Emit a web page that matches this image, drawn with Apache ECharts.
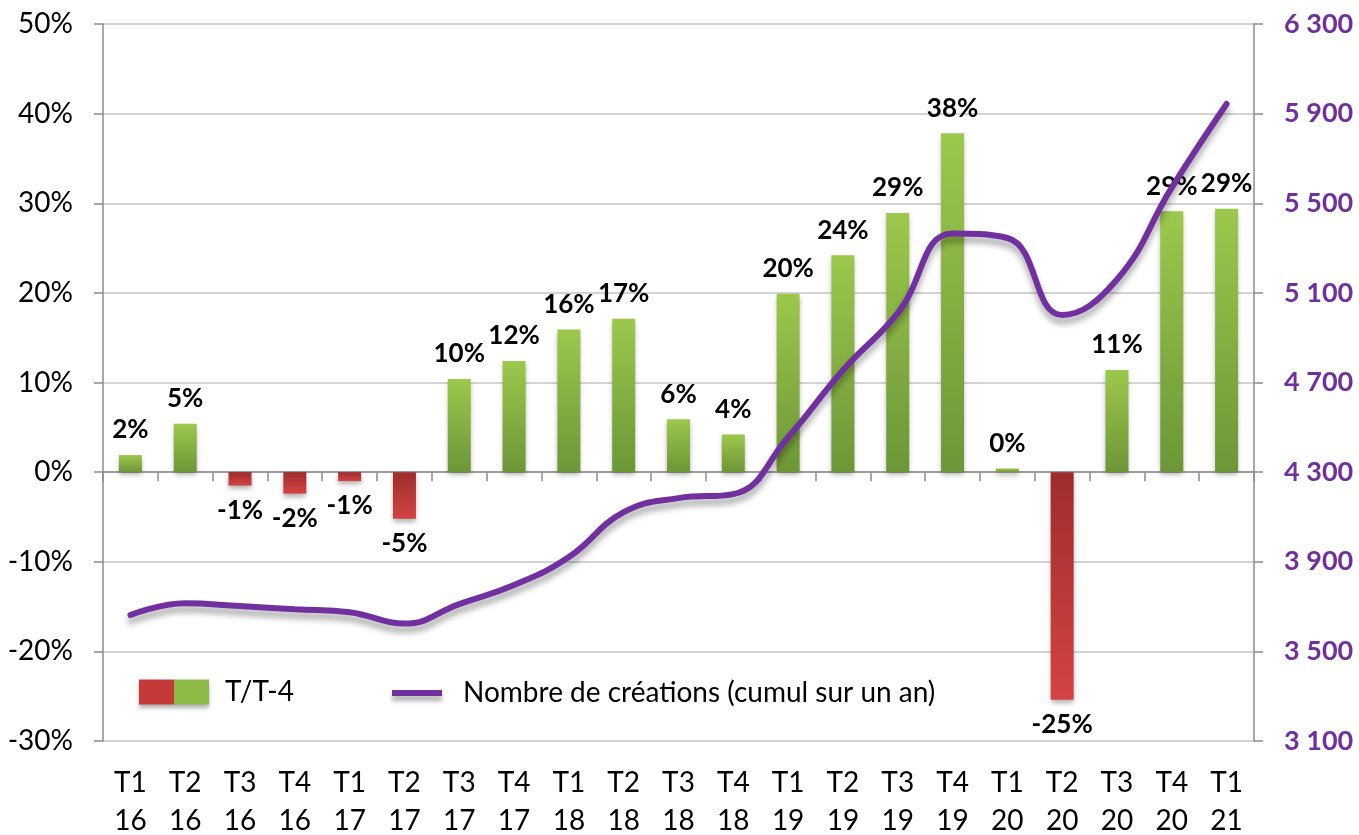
<!DOCTYPE html>
<html>
<head>
<meta charset="utf-8">
<script src="https://cdn.jsdelivr.net/npm/echarts@6/dist/echarts.min.js"></script>
<style>
html,body{margin:0;padding:0;background:#fff;}
#main{width:1359px;height:835px;}
</style>
</head>
<body>
<div id="main"></div>
<script>
// trimestres
var categories = ['T1\n16','T2\n16','T3\n16','T4\n16','T1\n17','T2\n17','T3\n17','T4\n17','T1\n18','T2\n18','T3\n18','T4\n18',
	'T1\n19','T2\n19','T3\n19','T4\n19','T1\n20','T2\n20','T3\n20','T4\n20','T1\n21'];
// evolution T/T-4 en %
var evolution = [1.9, 5.4, -1.5, -2.4, -1.0, -5.2, 10.4, 12.4, 15.9, 17.1, 5.9, 4.2, 19.9, 24.2, 28.9, 37.8, 0.4, -25.4, 11.4, 29.1, 29.4];
// nombre de creations, cumul sur un an
var creations = [3662, 3715, 3702, 3688, 3675, 3624, 3711, 3796, 3921, 4121, 4184, 4202, 4456, 4755, 5010, 5365, 5345, 5001, 5160, 5570, 5943];

var FONT = 'Lato';
var PURPLE = '#7030a0';

function grad(c1, c2) {
	return new echarts.graphic.LinearGradient(0, 0, 0, 1, [
		{ offset : 0, color : c1 },
		{ offset : 1, color : c2 }
	]);
}

var barData = [];
for (var i = 0; i < evolution.length; i++) {
	var v = evolution[i];
	barData.push({
		value : v,
		itemStyle : {
			color : v >= 0 ? grad('#9cc84c', '#6d9637') : grad('#9e2c2c', '#d44343')
		},
		label : {
			position : v >= 0 ? 'top' : 'bottom'
		}
	});
}

var chart = echarts.init(document.getElementById('main'));
var option = {
	animation : false,
	textStyle : { fontFamily : FONT },
	grid : { left : 103, right : 105, top : 24, bottom : 94, containLabel : false, outerBoundsMode : 'none' },
	legend : [ {
		data : [ 'T/T-4' ],
		left : 139,
		top : 678,
		padding : 0,
		itemWidth : 70,
		itemHeight : 25,
		icon : 'rect',
		itemStyle : {
			color : new echarts.graphic.LinearGradient(0, 0, 1, 0, [
				{ offset : 0, color : '#c43a38' },
				{ offset : 0.5, color : '#c43a38' },
				{ offset : 0.5, color : '#8dba45' },
				{ offset : 1, color : '#8dba45' }
			]),
			shadowColor : 'rgba(0,0,0,0.3)',
			shadowBlur : 4,
			shadowOffsetY : 3
		},
		textStyle : { fontFamily : FONT, fontSize : 28, color : '#000', padding : [ 0, 0, 0, 11 ] }
	}, {
		data : [ 'Nombre de créations (cumul sur un an)' ],
		left : 392,
		top : 679,
		padding : 0,
		itemWidth : 50,
		itemHeight : 6,
		icon : 'rect',
		itemStyle : {
			color : PURPLE,
			shadowColor : 'rgba(0,0,0,0.3)',
			shadowBlur : 4,
			shadowOffsetY : 5
		},
		textStyle : { fontFamily : FONT, fontSize : 28, color : '#000', padding : [ 0, 0, 0, 16 ] }
	} ],
	xAxis : [ {
		type : 'category',
		data : categories,
		position : 'bottom',
		axisLine : { show : false, onZero : false },
		axisTick : { show : false },
		axisLabel : {
			fontFamily : FONT,
			fontSize : 28,
			lineHeight : 38,
			color : '#000',
			margin : 23,
			interval : 0
		}
	}, {
		type : 'category',
		data : categories,
		position : 'bottom',
		axisLine : { show : true, onZero : true, onZeroAxisIndex : 0, lineStyle : { color : '#8c8c8c', width : 1.5 } },
		axisTick : { show : true, length : 9, lineStyle : { color : '#8c8c8c', width : 1.5 } },
		axisLabel : { show : false }
	} ],
	yAxis : [ {
		type : 'value',
		min : -30,
		max : 50,
		interval : 10,
		axisLine : { show : true, lineStyle : { color : '#8c8c8c', width : 1.5 } },
		axisTick : { show : true, length : 9, lineStyle : { color : '#8c8c8c', width : 1.5 } },
		splitLine : { lineStyle : { color : '#c4c4c4', width : 1.5 } },
		axisLabel : {
			fontFamily : FONT,
			fontSize : 28,
			color : '#000',
			margin : 30,
			formatter : function(v) { return v + '%'; }
		}
	}, {
		type : 'value',
		min : 3100,
		max : 6300,
		interval : 400,
		position : 'right',
		axisLine : { show : true, lineStyle : { color : '#8c8c8c', width : 1.5 } },
		axisTick : { show : true, length : 9, lineStyle : { color : '#8c8c8c', width : 1.5 } },
		splitLine : { show : false },
		axisLabel : {
			fontFamily : FONT,
			fontSize : 27,
			fontWeight : 'bold',
			color : PURPLE,
			margin : 30,
			formatter : function(v) { return String(v).replace(/\B(?=(\d{3})+(?!\d))/g, ' '); }
		}
	} ],
	series : [ {
		name : 'T/T-4',
		type : 'bar',
		xAxisIndex : 0,
		yAxisIndex : 0,
		barWidth : 23,
		data : barData,
		itemStyle : {
			shadowColor : 'rgba(0,0,0,0.3)',
			shadowBlur : 5,
			shadowOffsetY : 3
		},
		label : {
			show : true,
			distance : 12,
			fontFamily : FONT,
			fontSize : 26,
			fontWeight : 'bold',
			color : '#000',
			formatter : function(p) { return Math.round(p.value) + '%'; }
		},
		z : 2
	}, {
		name : 'Nombre de créations (cumul sur un an)',
		type : 'line',
		xAxisIndex : 0,
		yAxisIndex : 1,
		data : creations,
		smooth : 0.45,
		symbol : 'none',
		lineStyle : {
			color : PURPLE,
			width : 6,
			cap : 'round',
			shadowColor : 'rgba(0,0,0,0.35)',
			shadowBlur : 6,
			shadowOffsetY : 6
		},
		itemStyle : { color : PURPLE },
		z : 5
	} ]
};
chart.setOption(option);
</script>
</body>
</html>
